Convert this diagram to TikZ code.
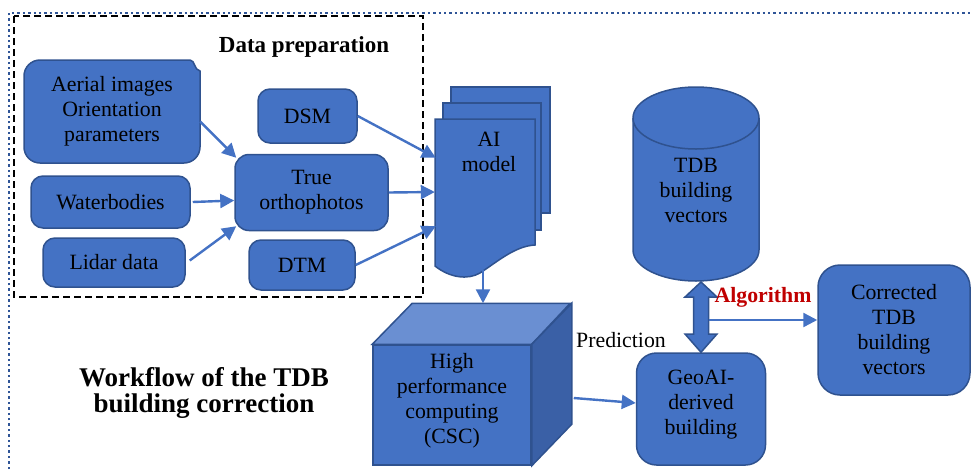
\documentclass[tikz,border=0pt]{standalone}
\usepackage{fontspec}
\setmainfont{Liberation Serif}
\usetikzlibrary{arrows.meta,calc}
\definecolor{boxblue}{HTML}{4472C4}
\definecolor{edgeblue}{HTML}{2F528F}
\definecolor{topblue}{HTML}{6A8FD2}
\definecolor{sideblue}{HTML}{3A60A6}
\definecolor{algred}{HTML}{C00000}
\definecolor{dotblue}{HTML}{2F5597}

\begin{document}
\begin{tikzpicture}[x=1pt,y=-1pt,
  txt/.style={font=\fontsize{21.8}{25}\selectfont, align=center, text=black, inner sep=0pt},
  blk/.style={txt, draw=edgeblue, fill=boxblue, line width=1.5pt, rounded corners=12pt},
  shapeline/.style={draw=edgeblue, fill=boxblue, line width=1.5pt},
  flow/.style={draw=boxblue, line width=2.4pt, -{Triangle[length=14pt,width=14pt]}},
]
\useasboundingbox (0,0) rectangle (972,469);

% outer dotted frame (top and left edges)
\draw[dotblue, line width=2.6pt, dash pattern=on 2.4pt off 3pt] (9,469) -- (9,13) -- (972,13);

% data preparation group
\draw[black, line width=2.4pt, dash pattern=on 7pt off 4pt] (14,16) rectangle (423,297);
\node[txt, font=\fontsize{23}{27}\selectfont\bfseries] (prep) at (304,47) {Data preparation};

% input boxes
\node[txt, minimum width=176pt, minimum height=103pt] (aerial) at (112,111.5) {};
\path[shapeline] (40,60) -- (190,60) .. controls (195,60) and (194,70) .. (200,71)
  -- (200,147) arc[start angle=0, end angle=-90, radius=16pt] -- (40,163)
  arc[start angle=270, end angle=180, radius=16pt] -- (24,76)
  arc[start angle=180, end angle=90, radius=16pt] -- cycle;
\node[txt] at (aerial.center) {Aerial images\\Orientation\\parameters};

\node[blk, minimum width=99pt, minimum height=54pt] (dsm) at (307.5,116) {DSM};
\node[blk, minimum width=153pt, minimum height=76pt, rounded corners=14pt] (ortho) at (311.5,192.5) {True\\orthophotos};
\node[blk, minimum width=159pt, minimum height=52pt] (water) at (110.5,202) {Waterbodies};
\node[blk, minimum width=142pt, minimum height=49pt] (lidar) at (114,262.5) {Lidar data};
\node[blk, minimum width=106pt, minimum height=50pt] (dtm) at (302,265) {DTM};

% AI model: stack of documents
\path[shapeline] (451,87) rectangle (550,213);
\path[shapeline] (443,103) rectangle (541,230);
\path[shapeline] (435,119) -- (535,119) -- (535,245)
  .. controls (515,246) and (497,262) .. (480,273)
  .. controls (468,280) and (450,278) .. (435,266) -- cycle;
\node[minimum width=100pt, minimum height=146pt, inner sep=0pt] (ai) at (485,192) {};
\node[txt] (ailabel) at (489,152) {AI\\model};

% connectors into the true orthophotos
\draw[flow] ($(aerial.east)+(0,10)$) -- ($(ortho.north west)+(2,4)$);
\draw[flow] ($(water.east)+(2,0)$) -- ($(ortho.west)+(0,8)$);
\draw[flow] ($(lidar.east)+(4,-2)$) -- ($(ortho.south west)+(2,-5)$);

% connectors into the AI model
\draw[flow] (dsm.east) -- ($(ai.north west)+(1,39)$);
\draw[flow] (ortho.east) -- (ai.west);
\draw[flow] (dtm.east) -- ($(ai.south west)+(1,-39)$);

% high performance computing cube
\node[txt, minimum width=158pt, minimum height=120pt, draw=edgeblue, fill=boxblue, line width=1.5pt] (hpc) at (452,405) {};
\path[shapeline, fill=topblue] (hpc.north west) -- ++(40,-41) -- ++(158,0) -- (hpc.north east) -- cycle;
\path[shapeline, fill=sideblue] (hpc.north east) -- ++(40,-41) -- ++(0,121) -- (hpc.south east) -- cycle;
\node[txt] (hpclabel) at (452,401) {High\\performance\\computing\\(CSC)};

\draw[flow] ($(ai.south)+(-2,5)$) -- ($(hpc.north)+(31,-41)$);

% TDB building vectors database
\path[shapeline] (633,118) -- (633,250) arc[start angle=180, end angle=360, x radius=63pt, y radius=31pt] -- (759,118);
\path[shapeline] (696,118) ellipse[x radius=63pt, y radius=31pt];
\node[txt] (tdb) at (696,190) {TDB\\building\\vectors};
\coordinate (dtop) at (701,282);

% GeoAI-derived building
\node[blk, minimum width=129pt, minimum height=112pt, rounded corners=20pt] (geo) at (701,409) {};
\node[txt] (geolabel) at (701,405) {GeoAI-\\derived\\building};

\node[txt] (pred) at (621,340) {Prediction};
\draw[flow] ($(hpc.east)+(42,-7)$) -- ($(geo.west)+(0,-6)$);

% two-way block arrow between database and prediction
\path[shapeline] (dtop) -- ($(dtop)+(16,15)$) -- ($(dtop)+(7.5,15)$) -- ($(dtop)+(7.5,52)$)
  -- ($(dtop)+(16,52)$) -- (geo.north) -- ($(dtop)+(-16,52)$) -- ($(dtop)+(-7.5,52)$)
  -- ($(dtop)+(-7.5,15)$) -- ($(dtop)+(-16,15)$) -- cycle;
\coordinate (algo) at ($(dtop)+(7.5,38)$);
\node[txt, font=\fontsize{21.8}{25}\selectfont\bfseries, text=algred] (alglabel) at (763,297) {Algorithm};

% corrected output
\node[blk, minimum width=152pt, minimum height=130pt, rounded corners=22pt] (corr) at (894,330) {Corrected\\TDB\\building\\vectors};
\draw[flow] (algo) -- ($(corr.west)+(0,-10)$);

% caption
\node[txt, font=\fontsize{27}{26}\selectfont\bfseries] (caption) at (204,393) {Workflow of the TDB\\building correction};
\end{tikzpicture}
\end{document}
